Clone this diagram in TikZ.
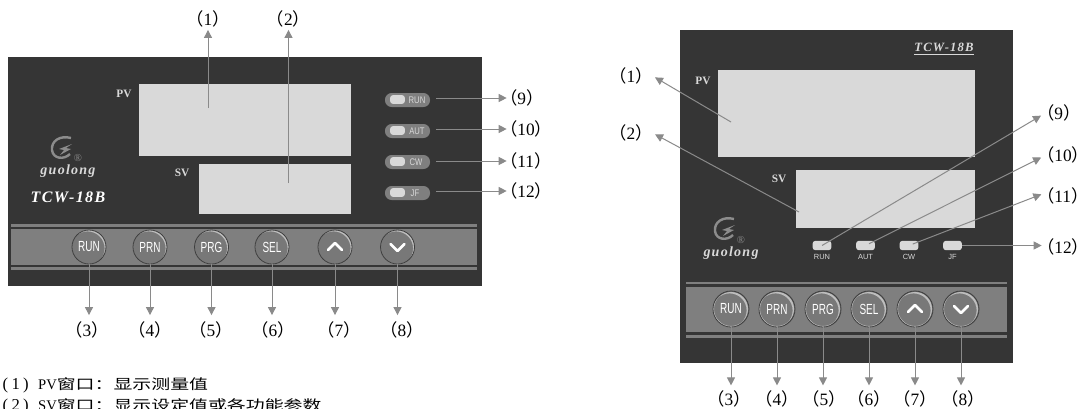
\documentclass[tikz,border=0pt]{standalone}
\usepackage{fontspec}
\setmainfont{Liberation Serif}
\newfontfamily\cjk{Noto Sans CJK SC}
\newfontfamily\cjkwide[FakeStretch=1.35]{Noto Sans CJK SC}
\newfontfamily\keyfont[FakeStretch=0.68]{Liberation Sans}
\newfontfamily\pillfont[FakeStretch=0.8]{Liberation Sans}
\newfontfamily\ledfont{Liberation Sans}
\newfontfamily\brandfont[LetterSpace=9]{Liberation Serif}
\usetikzlibrary{arrows.meta,positioning}
\definecolor{PanelGrey}{RGB}{53,53,53}
\definecolor{WindowGrey}{RGB}{217,217,217}
\definecolor{BarGrey}{RGB}{127,127,127}
\definecolor{PtrGrey}{RGB}{138,138,138}
\definecolor{KeyGrey}{RGB}{120,120,120}
\definecolor{KeyEdge}{RGB}{62,62,62}
\definecolor{KeyLight}{RGB}{190,190,190}
\definecolor{LogoGrey}{RGB}{140,140,140}
\newcommand{\parlab}[1]{{\cjk （}#1{\cjk ）}}
\newcommand{\notelab}[1]{\hspace*{2pt}{\fontsize{12.5}{14}\selectfont(\hspace{2.5pt}#1\hspace{2.5pt})}\hspace{7pt}}
\newcommand{\brandmark}[2]{%
  \begin{scope}[shift={(#1,#2)}]
    \draw[LogoGrey,line width=1.8pt] (9,-10) .. controls (-2,-13) and (-11,-7) .. (-10,2) .. controls (-9,11) and (2,12) .. (8,6);
    \fill[LogoGrey] (10,-4) -- (-3,1) -- (2,2) -- (-2,7) -- (9,1) -- (4,0) -- cycle;
  \end{scope}}
\begin{document}
\begin{tikzpicture}[
  x=0.75pt,y=-0.75pt,
  lab/.style={inner sep=0pt,outer sep=0pt,font=\fontsize{13}{15}\selectfont},
  note/.style={inner sep=0pt,outer sep=0pt,anchor=west,font=\fontsize{10.5}{12}\selectfont},
  ptr/.style={draw=PtrGrey,line width=0.75pt,-{Triangle[length=6pt,width=6pt]}},
  keybtn/.style={circle,draw=KeyEdge,line width=0.6pt,fill=KeyGrey,inner sep=0pt,
                 text=white,font=\keyfont\fontsize{11}{12}\selectfont,
                 path picture={\fill[KeyLight,even odd rule] (path picture bounding box.center) circle[radius=17]
                   ([shift={(-1.4,1.4)}]path picture bounding box.center) circle[radius=17];}},
  smallbtn/.style={keybtn,minimum size=25.5pt},
  bigbtn/.style={keybtn,minimum size=27pt},
  chev/.style={draw=white,line width=2pt,line cap=round,line join=round},
  pill/.style={rounded corners=5pt,fill=BarGrey,minimum width=33.75pt,minimum height=10.5pt,inner sep=0pt},
  led/.style={rounded corners=2pt,fill=WindowGrey,inner sep=0pt},
  ledtxt/.style={inner sep=0pt,text=WindowGrey,font=\pillfont\fontsize{7.2}{8}\selectfont},
  smalltxt/.style={inner sep=0pt,text=WindowGrey,font=\ledfont\fontsize{5.6}{6}\selectfont},
  plate/.style={inner sep=0pt,text=WindowGrey,font=\bfseries\fontsize{8.5}{10}\selectfont},
]
\useasboundingbox (0,0) rectangle (1087,408);
% left panel
\fill[PanelGrey] (8,57) rectangle (482,286);
\fill[WindowGrey] (139,84) rectangle (351,156);
\fill[WindowGrey] (199,164) rectangle (351,214);
\fill[BarGrey] (11,224) rectangle (477,226.5);
\fill[BarGrey] (11,229) rectangle (477,265);
\fill[BarGrey] (11,267) rectangle (477,269.5);
\node[plate] (lpv) at (124,94) {PV};
\node[plate] (lsv) at (182,173) {SV};
\brandmark{62}{148}
\node[inner sep=0pt,text=LogoGrey,font=\fontsize{8}{8}\selectfont] (lreg) at (78,158) {®};
\node[inner sep=0pt,text=WindowGrey,font=\brandfont\bfseries\itshape\fontsize{10.5}{12}\selectfont] (lbrand) at (68,171) {guolong};
\node[inner sep=0pt,text=white,font=\brandfont\bfseries\itshape\fontsize{12}{14}\selectfont] (lmodel) at (68,197) {TCW-18B};
\node[smallbtn] (lrun) at (89,247) {RUN};
\node[smallbtn] (lprn) at (150,247) {PRN};
\node[smallbtn] (lprg) at (211.5,247) {PRG};
\node[smallbtn] (lsel) at (272,247) {SEL};
\node[smallbtn] (lup) at (335,247) {};
\node[smallbtn] (ldn) at (397.5,247) {};
\draw[chev] ([shift={(-7,3)}]lup.center) -- ([shift={(0,-4)}]lup.center) -- ([shift={(7,3)}]lup.center);
\draw[chev] ([shift={(-7,-3)}]ldn.center) -- ([shift={(0,4)}]ldn.center) -- ([shift={(7,-3)}]ldn.center);
\node[pill] (lp9) at (407.5,100) {};
\node[pill] (lp10) at (407.5,131) {};
\node[pill] (lp11) at (407.5,162) {};
\node[pill] (lp12) at (407.5,193) {};
\node[led,minimum width=11pt,minimum height=6.5pt] (ll9) at (397.5,99.5) {};
\node[led,minimum width=11pt,minimum height=6.5pt] (ll10) at (397.5,130.5) {};
\node[led,minimum width=11pt,minimum height=6.5pt] (ll11) at (397.5,161.5) {};
\node[led,minimum width=11pt,minimum height=6.5pt] (ll12) at (397.5,192.5) {};
\node[ledtxt] (lt9) at (417,100) {RUN};
\node[ledtxt] (lt10) at (417,131) {AUT};
\node[ledtxt] (lt11) at (416,162) {CW};
\node[ledtxt] (lt12) at (415,193) {JF};
\coordinate (ls1) at (208,108);
\coordinate (ls2) at (288.5,183);
\node[lab] (la1) at (208,19) {\parlab{1}};
\node[lab] (la2) at (288.5,19) {\parlab{2}};
\node[lab] (la3) at (87,330) {\parlab{3}};
\node[lab] (la4) at (150,330) {\parlab{4}};
\node[lab] (la5) at (211,330) {\parlab{5}};
\node[lab] (la6) at (273,330) {\parlab{6}};
\node[lab] (la7) at (339,330) {\parlab{7}};
\node[lab] (la8) at (402,330) {\parlab{8}};
\node[lab,anchor=west] (la9) at (500,98) {\parlab{9}};
\node[lab,anchor=west] (la10) at (500,129) {\parlab{10}};
\node[lab,anchor=west] (la11) at (500,161) {\parlab{11}};
\node[lab,anchor=west] (la12) at (500,191) {\parlab{12}};
\draw[ptr,shorten >=2pt] (ls1) -- (la1.south);
\draw[ptr,shorten >=2pt] (ls2) -- (la2.south);
\draw[ptr,shorten >=5pt] (lrun.south) -- (lrun.south |- la3.north);
\draw[ptr,shorten >=5pt] (lprn.south) -- (lprn.south |- la4.north);
\draw[ptr,shorten >=5pt] (lprg.south) -- (lprg.south |- la5.north);
\draw[ptr,shorten >=5pt] (lsel.south) -- (lsel.south |- la6.north);
\draw[ptr,shorten >=5pt] (lup.south) -- (lup.south |- la7.north);
\draw[ptr,shorten >=5pt] (ldn.south) -- (ldn.south |- la8.north);
\draw[ptr,shorten <=4.5pt,shorten >=-5pt] (lp9.east |- la9.west) -- (la9.west);
\draw[ptr,shorten <=4.5pt,shorten >=-5pt] (lp10.east |- la10.west) -- (la10.west);
\draw[ptr,shorten <=4.5pt,shorten >=-5pt] (lp11.east |- la11.west) -- (la11.west);
\draw[ptr,shorten <=4.5pt,shorten >=-5pt] (lp12.east |- la12.west) -- (la12.west);
\node[note] (note1) at (0,385) {\notelab{1}{\fontsize{11}{12}\selectfont PV}{\cjkwide 窗口：显示测量值}};
\node[note] (note2) at (0,406) {\notelab{2}{\fontsize{11}{12}\selectfont SV}{\cjkwide 窗口：显示设定值或各功能参数}};
% right panel
\fill[PanelGrey] (680,30) rectangle (1013,363);
\fill[WindowGrey] (718,70) rectangle (975,157);
\fill[WindowGrey] (796,170) rectangle (975,228);
\fill[BarGrey] (686,281.5) rectangle (1007,284);
\fill[BarGrey] (686,287) rectangle (1007,332);
\fill[BarGrey] (686,335) rectangle (1007,337.5);
\node[plate] (rpv) at (703,81) {PV};
\node[plate] (rsv) at (779,179) {SV};
\node[inner sep=0pt,text=WindowGrey,font=\brandfont\bfseries\itshape\fontsize{9.5}{11}\selectfont] (rmodel) at (944,49) {\underline{TCW-18B}};
\brandmark{725}{229}
\node[inner sep=0pt,text=LogoGrey,font=\fontsize{8}{8}\selectfont] (rreg) at (741,240) {®};
\node[inner sep=0pt,text=WindowGrey,font=\brandfont\bfseries\itshape\fontsize{10.5}{12}\selectfont] (rbrand) at (731,253) {guolong};
\node[led,minimum width=14pt,minimum height=7pt] (rl9) at (822,245.5) {};
\node[led,minimum width=14pt,minimum height=7pt] (rl10) at (865.5,245.5) {};
\node[led,minimum width=14pt,minimum height=7pt] (rl11) at (909,245.5) {};
\node[led,minimum width=14pt,minimum height=7pt] (rl12) at (952.5,245.5) {};
\node[smalltxt] (rt9) at (822,257) {RUN};
\node[smalltxt] (rt10) at (865.5,257) {AUT};
\node[smalltxt] (rt11) at (909,257) {CW};
\node[smalltxt] (rt12) at (952.5,257) {JF};
\node[bigbtn] (rrun) at (731,309) {RUN};
\node[bigbtn] (rprn) at (777,309) {PRN};
\node[bigbtn] (rprg) at (823,309) {PRG};
\node[bigbtn] (rsel) at (869,309) {SEL};
\node[bigbtn] (rup) at (915,309) {};
\node[bigbtn] (rdn) at (961,309) {};
\draw[chev] ([shift={(-7,3)}]rup.center) -- ([shift={(0,-4)}]rup.center) -- ([shift={(7,3)}]rup.center);
\draw[chev] ([shift={(-7,-3)}]rdn.center) -- ([shift={(0,4)}]rdn.center) -- ([shift={(7,-3)}]rdn.center);
\coordinate (rs1) at (731,122);
\coordinate (rs2) at (799,212);
\node[lab] (ra1) at (631,76) {\parlab{1}};
\node[lab] (ra2) at (631,133) {\parlab{2}};
\node[lab] (ra3) at (729,399) {\parlab{3}};
\node[lab] (ra4) at (777,399) {\parlab{4}};
\node[lab] (ra5) at (824,399) {\parlab{5}};
\node[lab] (ra6) at (869,399) {\parlab{6}};
\node[lab] (ra7) at (915,399) {\parlab{7}};
\node[lab] (ra8) at (963,399) {\parlab{8}};
\node[lab,anchor=west] (ra9) at (1037,113) {\parlab{9}};
\node[lab,anchor=west] (ra10) at (1037,155) {\parlab{10}};
\node[lab,anchor=west] (ra11) at (1037,196) {\parlab{11}};
\node[lab,anchor=west] (ra12) at (1037,247) {\parlab{12}};
\draw[ptr,shorten >=2pt] (rs1) -- (ra1.east);
\draw[ptr,shorten >=2pt] (rs2) -- (ra2.east);
\draw[ptr,shorten >=4pt] (rrun.south) -- (rrun.south |- ra3.north);
\draw[ptr,shorten >=4pt] (rprn.south) -- (rprn.south |- ra4.north);
\draw[ptr,shorten >=4pt] (rprg.south) -- (rprg.south |- ra5.north);
\draw[ptr,shorten >=4pt] (rsel.south) -- (rsel.south |- ra6.north);
\draw[ptr,shorten >=4pt] (rup.south) -- (rup.south |- ra7.north);
\draw[ptr,shorten >=4pt] (rdn.south) -- (rdn.south |- ra8.north);
\draw[ptr,shorten >=-3.5pt] (rl9.center) -- (ra9.193);
\draw[ptr,shorten <=3pt,shorten >=-3.5pt] (rl10.center) -- (ra10.190);
\draw[ptr,shorten <=3pt,shorten >=-3.5pt] (rl11.center) -- (ra11.west);
\draw[ptr,shorten >=-3.5pt] (rl12.east) -- (rl12.east -| ra12.west);
\end{tikzpicture}
\end{document}
